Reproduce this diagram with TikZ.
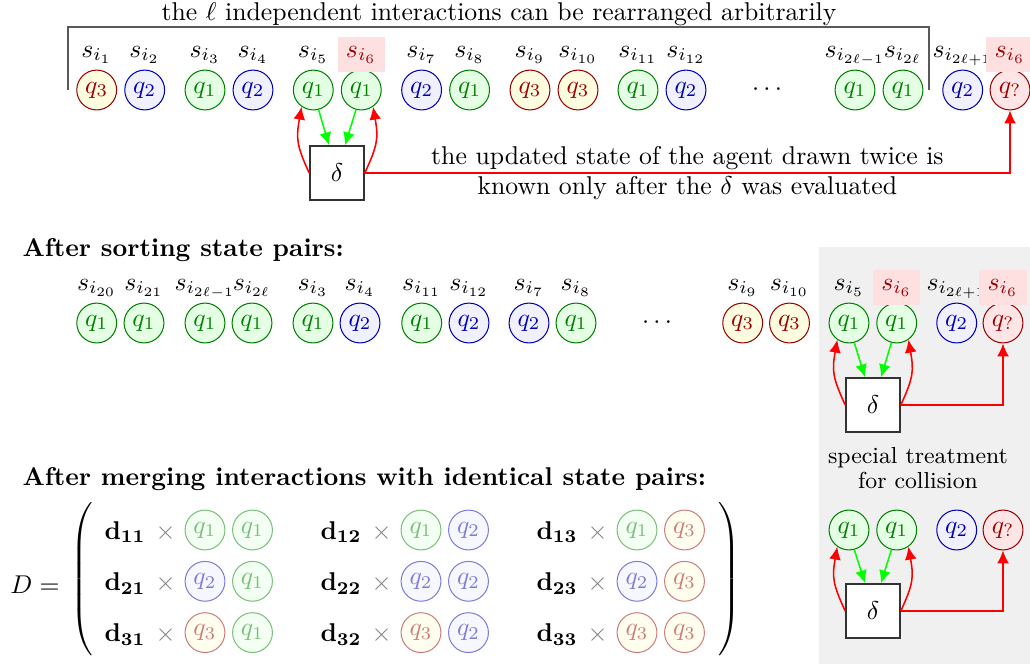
\documentclass[tikz,border=0pt]{standalone}
\usetikzlibrary{arrows.meta}
\tikzset{
  st/.style={circle,draw,minimum size=15.5pt,inner sep=0pt},
  st1/.style={st,draw=green!50!black,fill=green!10,text=green!50!black},
  st2/.style={st,draw=blue!70!black,fill=blue!6,text=blue!70!black},
  st3/.style={st,draw=red!60!black,fill=yellow!12,text=red!60!black},
  stq/.style={st,draw=red!60!black,fill=red!10,text=red!60!black},
  faded/.style={opacity=0.5},
  lab/.style={anchor=base,inner sep=0pt},
  hot/.style={lab,fill=red!12,text=red!60!black,minimum width=18.5pt,minimum height=13.5pt},
  deltabox/.style={draw=black!80,semithick,fill=white,minimum size=21pt,inner sep=0pt},
  feed/.style={-{Latex[length=5pt,width=4.6pt]},green,semithick},
  back/.style={-{Latex[length=5pt,width=4.6pt]},red,semithick},
  bendl/.style={out=115,in=-100,looseness=1.2},
  bendr/.style={out=65,in=-80,looseness=1.2},
}
\begin{document}
\begin{tikzpicture}[x=0.389pt,y=-0.389pt]
\useasboundingbox (0,0) rectangle (1030,664);
% panel for the collision case
\fill[black!6] (819,247) rectangle (1030,664);

% unsorted interactions
\path[coordinate] (68,90) coordinate(BL)
            (68,27) coordinate(TL)
            (929,27) coordinate(TR)
            (929,90) coordinate(BR);
\draw[semithick,black!65] (BL) -- (TL) -- (TR) -- (BR);
\node[anchor=base] (title) at (499,20) {the $\ell$ independent interactions can be rearranged arbitrarily};

\foreach \x/\sty/\q/\idx/\tag/\n in {96.7/st3/3/i_1/lab/a1, 144.7/st2/2/i_2/lab/a2,
    205/st1/1/i_3/lab/a3, 253/st2/2/i_4/lab/a4, 313.3/st1/1/i_5/lab/a5, 361.3/st1/1/i_6/hot/a6,
    421.6/st2/2/i_7/lab/a7, 469.6/st1/1/i_8/lab/a8, 530/st3/3/i_9/lab/a9, 578/st3/3/i_{10}/lab/a10,
    638/st1/1/i_{11}/lab/a11, 686/st2/2/i_{12}/lab/a12, 855/st1/1/i_{2\ell-1}/lab/a13,
    903/st1/1/i_{2\ell}/lab/a14, 962.7/st2/2/i_{2\ell+1}/lab/a15, 1010/stq/?/i_6/hot/a16}
{
  \node[\sty] (\n) at (\x,90) {$q_{\q}$};
  \node[\tag] at (\x,57) {$s_{\idx}$};
}
\node (dots1) at (767,90) {$\cdots$};

\node[deltabox] (d1) at (337,173) {$\delta$};
\draw[feed] (a5.-75) -- ([xshift=-3.1pt]d1.north);
\draw[feed] (a6.-105) -- ([xshift=3.1pt]d1.north);
\draw[back] (d1.west) to[bendl] (a5.235);
\draw[back] (d1.east) to[bendr] (a6.-55);
\draw[back] (d1.east) -| (a16.south)
  node[pos=0.25,align=center,text=black] {the updated state of the agent drawn twice is\\known only after the $\delta$ was evaluated};

% sorted
\node[anchor=base west,inner sep=0pt] (h1) at (22,256) {\textbf{After sorting state pairs:}};
\foreach \x/\sty/\q/\idx/\tag/\n in {96.7/st1/1/i_{20}/lab/b1, 144/st1/1/i_{21}/lab/b2,
    205/st1/1/i_{2\ell-1}/lab/b3, 252/st1/1/i_{2\ell}/lab/b4, 313/st1/1/i_3/lab/b5, 360/st2/2/i_4/lab/b6,
    421.7/st1/1/i_{11}/lab/b7, 469/st2/2/i_{12}/lab/b8, 529/st2/2/i_7/lab/b9, 576/st1/1/i_8/lab/b10,
    742.7/st3/3/i_9/lab/b11, 789.5/st3/3/i_{10}/lab/b12, 849/st1/1/i_5/lab/b13, 896.7/st1/1/i_6/hot/b14,
    956.7/st2/2/i_{2\ell+1}/lab/b15, 1003/stq/?/i_6/hot/b16}
{
  \node[\sty] (\n) at (\x,323) {$q_{\q}$};
  \node[\tag] at (\x,290) {$s_{\idx}$};
}
\node (dots2) at (657,323) {$\cdots$};

\node[deltabox] (d2) at (873,405) {$\delta$};
\draw[feed] (b13.-75) -- ([xshift=-3.1pt]d2.north);
\draw[feed] (b14.-105) -- ([xshift=3.1pt]d2.north);
\draw[back] (d2.west) to[bendl] (b13.235);
\draw[back] (d2.east) to[bendr] (b14.-55);
\draw[back] (d2.east) -| (b16.south);

\node[align=center,font=\small] (note) at (918,468) {special treatment\\[-1pt]for collision};

\foreach \x/\sty/\q/\n in {849/st1/1/c1, 896.7/st1/1/c2, 956.7/st2/2/c3, 1003/stq/?/c4}
  \node[\sty] (\n) at (\x,530) {$q_{\q}$};
\node[deltabox] (d3) at (873,611) {$\delta$};
\draw[feed] (c1.-75) -- ([xshift=-3.1pt]d3.north);
\draw[feed] (c2.-105) -- ([xshift=3.1pt]d3.north);
\draw[back] (d3.west) to[bendl] (c1.235);
\draw[back] (d3.east) to[bendr] (c2.-55);
\draw[back] (d3.east) -| (c4.south);

% merged
\node[anchor=base west,inner sep=0pt] (h2) at (22,485) {\textbf{After merging interactions with identical state pairs:}};
\node (lhs) at (35,585) {$D=$};
\node[inner sep=0pt] (lpar) at (83,581) {$\left(\rule[-29pt]{0pt}{58pt}\right.$};
\node[inner sep=0pt] (rpar) at (728,581) {$\left.\rule[-29pt]{0pt}{58pt}\right)$};
\foreach \row in {1,2,3}
  \foreach \col in {1,2,3}
  {
    \pgfmathsetmacro\cx{125+216*(\col-1)}
    \pgfmathsetmacro\ry{530+51.3*(\row-1)}
    \node[lab] (d\row\col) at (\cx,\ry+9) {$\mathbf{d_{\row\col}}$};
    \node[lab,text=black!50] at (\cx+40.7,\ry+9) {$\times$};
    \node[st\row,faded] at (\cx+80,\ry) {$q_{\row}$};
    \node[st\col,faded] at (\cx+127.5,\ry) {$q_{\col}$};
  }
\end{tikzpicture}
\end{document}
